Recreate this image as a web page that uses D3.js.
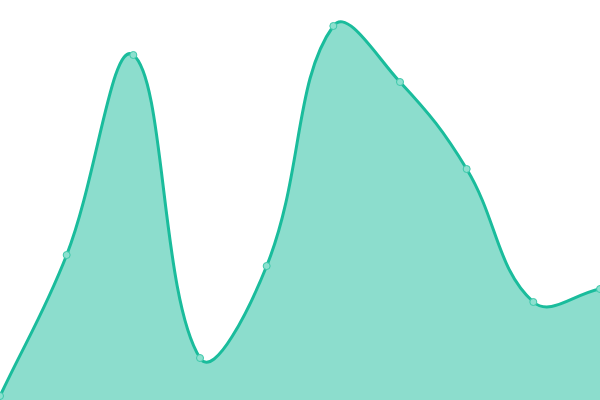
<!DOCTYPE html>
<html><head><meta charset="utf-8">
<script src="https://cdn.jsdelivr.net/npm/d3@7"></script>
<style>html,body{margin:0;padding:0;background:#fff;}svg{display:block;}</style>
</head><body>
<svg id="chart" width="600" height="400"></svg>
<script>
const categories = [0,1,2,3,4,5,6,7,8,9];
const values = [4, 145, 345, 42, 134, 374, 318, 231, 98, 111];
const yMax = 400;

const W = 600, H = 400;
const svg = d3.select("#chart");
const x = d3.scaleLinear().domain([0, categories.length - 1]).range([0, W]);
const y = d3.scaleLinear().domain([0, yMax]).range([H, 0]);
const data = categories.map((c, i) => ({c, v: values[i]}));

// distance-weighted spline (tension 0.4)
function splineCurve(tension) {
  return function(context) {
    return {
      areaStart() { this._line = 0; },
      areaEnd() { this._line = NaN; },
      lineStart() { this._pts = []; },
      point(px, py) { this._pts.push([+px, +py]); },
      lineEnd() {
        const p = this._pts, n = p.length;
        if (n) {
          if (this._line) context.lineTo(p[0][0], p[0][1]); else context.moveTo(p[0][0], p[0][1]);
          const cps = p.map((cur, i) => {
            const prev = p[Math.max(0, i - 1)], next = p[Math.min(n - 1, i + 1)];
            const d01 = Math.hypot(cur[0] - prev[0], cur[1] - prev[1]);
            const d12 = Math.hypot(next[0] - cur[0], next[1] - cur[1]);
            let s01 = d01 / (d01 + d12), s12 = d12 / (d01 + d12);
            if (!isFinite(s01)) s01 = 0; if (!isFinite(s12)) s12 = 0;
            const fa = tension * s01, fb = tension * s12;
            return {
              prev: [cur[0] - fa * (next[0] - prev[0]), cur[1] - fa * (next[1] - prev[1])],
              next: [cur[0] + fb * (next[0] - prev[0]), cur[1] + fb * (next[1] - prev[1])]
            };
          });
          for (let i = 1; i < n; i++) {
            context.bezierCurveTo(cps[i-1].next[0], cps[i-1].next[1], cps[i].prev[0], cps[i].prev[1], p[i][0], p[i][1]);
          }
        }
        if (this._line || (this._line !== 0 && n === 1)) context.closePath();
        this._line = 1 - this._line;
      }
    };
  };
}
const curve = splineCurve(0.4);

svg.append("path").datum(data)
  .attr("d", d3.area().x(d => x(d.c)).y0(H).y1(d => y(d.v)).curve(curve))
  .attr("fill", "rgba(26,188,156,0.5)");
svg.append("path").datum(data)
  .attr("d", d3.line().x(d => x(d.c)).y(d => y(d.v)).curve(curve))
  .attr("fill", "none").attr("stroke", "#1abc9c").attr("stroke-width", 3);
svg.selectAll("circle").data(data).enter().append("circle")
  .attr("cx", d => x(d.c)).attr("cy", d => y(d.v)).attr("r", 3.5)
  .attr("fill", "#8ce0cf").attr("stroke", "#3cc8aa").attr("stroke-width", 1);
</script>
</body></html>
